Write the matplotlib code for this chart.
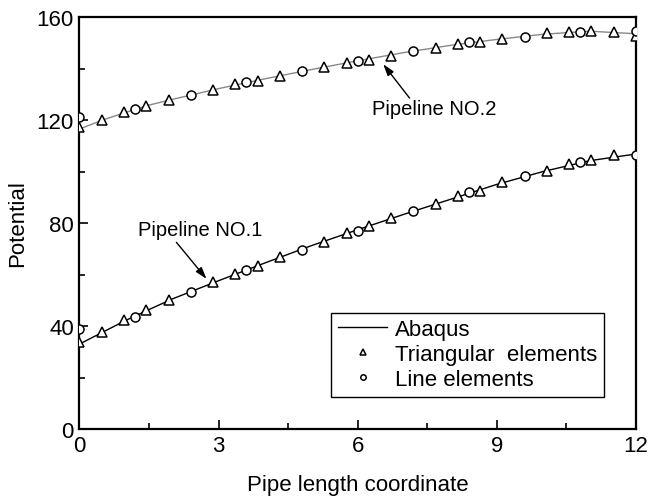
# Imports.
import numpy as np
import matplotlib
matplotlib.use("Agg")
import matplotlib.pyplot as plt
from matplotlib.ticker import MultipleLocator

plt.rcParams['font.family'] = ['Liberation Sans', 'DejaVu Sans']

### Data

# Abaqus reference curves
x_abaqus = [0, 0.5, 1, 1.5, 2, 3, 4, 5, 6, 7, 8, 9, 10, 11, 12]
abaqus_p1 = [33.0, 37.6, 42.2, 46.4, 50.5, 57.6, 64.5, 71.2, 77.4, 83.4, 89.2, 95.0, 100.0, 104.2, 106.8]
abaqus_p2 = [116.5, 120.0, 123.0, 125.8, 128.0, 132.2, 136.0, 139.6, 143.0, 146.2, 149.0, 151.3, 153.3, 154.5, 153.5]

# triangular elements
x_tri = [0, 0.48, 0.96, 1.44, 1.92, 2.88, 3.36, 3.84, 4.32, 5.28, 5.76, 6.24,
         6.72, 7.68, 8.16, 8.64, 9.12, 10.08, 10.56, 11.04, 11.52]
tri_p1 = [33.7, 37.5, 42.3, 46.1, 50.0, 57.0, 60.1, 63.4, 66.8, 72.5, 76.1, 78.7,
          81.8, 87.4, 90.4, 92.6, 95.8, 100.1, 102.9, 104.5, 106.4]
x_tri2 = x_tri + [12]
tri_p2 = [117.2, 120.0, 123.0, 125.6, 127.6, 131.5, 133.8, 135.0, 137.2, 140.4, 142.0, 143.4,
          145.0, 147.8, 149.5, 150.2, 151.5, 153.7, 154.3, 154.6, 154.3, 152.5]

# line elements
x_line = [0, 1.2, 2.4, 3.6, 4.8, 6.0, 7.2, 8.4, 9.6, 10.8, 12]
line_p1 = [38.8, 43.6, 53.3, 61.9, 69.6, 77.0, 84.8, 91.9, 98.2, 103.6, 106.4]
line_p2 = [121.1, 124.3, 129.7, 134.9, 138.9, 143.0, 146.7, 150.2, 152.4, 154.3, 154.7]

### Plot

fig = plt.figure(figsize=(6.5, 5.02), dpi=100)
ax = fig.add_axes([0.1223, 0.1434, 0.856, 0.8207])

ax.plot(x_abaqus, abaqus_p1, color='black', lw=1.0, label='Abaqus', zorder=2)
ax.plot(x_abaqus, abaqus_p2, color='#888888', lw=1.0, zorder=2)

tri_style = dict(ls='none', marker='^', ms=7.5, mfc='white', mec='black', mew=1.1, zorder=3)
circ_style = dict(ls='none', marker='o', ms=6.5, mfc='white', mec='black', mew=1.1, zorder=4)

ax.plot(x_tri, tri_p1, label='Triangular  elements', **tri_style)
ax.plot(x_tri2, tri_p2, **tri_style)
ax.plot(x_line, line_p1, label='Line elements', **circ_style)
ax.plot(x_line, line_p2, **circ_style)

ax.set_xlim(0, 12)
ax.set_ylim(0, 160)
ax.xaxis.set_major_locator(MultipleLocator(3))
ax.xaxis.set_minor_locator(MultipleLocator(1.5))
ax.yaxis.set_major_locator(MultipleLocator(40))
ax.yaxis.set_minor_locator(MultipleLocator(20))
ax.tick_params(which='both', direction='in', top=False, right=False, width=1.2, labelsize=16)
ax.tick_params(which='major', length=6.5, pad=4)
ax.tick_params(which='minor', length=4)
for sp in ax.spines.values():
    sp.set_linewidth(1.6)

ax.set_xlabel('Pipe length coordinate', fontsize=16, labelpad=13)
ax.set_ylabel('Potential', fontsize=16, labelpad=6)

# labels with pointer arrows
arrow = dict(arrowstyle='-|>,head_length=0.7,head_width=0.22', color='black', lw=1.0,
             shrinkA=0, shrinkB=0)
ax.text(2.6, 77.3, 'Pipeline NO.1', fontsize=14.5, ha='center', va='center')
ax.annotate('', xy=(2.74, 58.3), xytext=(2.09, 72.5), arrowprops=arrow)
ax.text(7.66, 124.3, 'Pipeline NO.2', fontsize=14.5, ha='center', va='center')
ax.annotate('', xy=(6.55, 141.7), xytext=(7.12, 128.5), arrowprops=arrow)

leg = ax.legend(loc='lower right', bbox_to_anchor=(0.9425, 0.078), borderaxespad=0,
                fontsize=16, markerscale=0.6, handlelength=2.2, handletextpad=0.36,
                labelspacing=0.18, borderpad=0.3, fancybox=False, framealpha=1,
                edgecolor='black')
leg.get_frame().set_linewidth(1.0)

plt.savefig('out.png', dpi=100)
